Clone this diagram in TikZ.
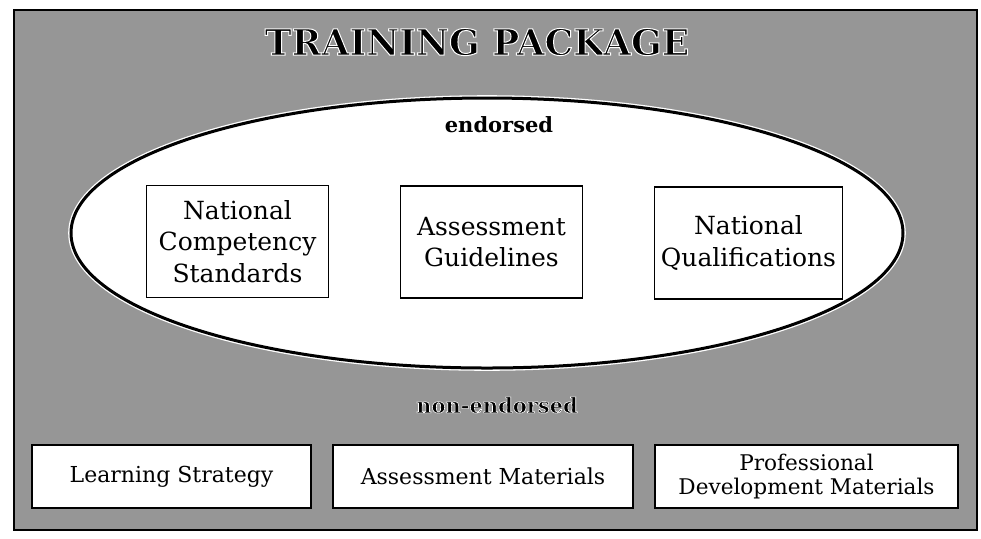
\documentclass[tikz,border=0pt]{standalone}
\usepackage{fontspec}
\setmainfont{DejaVu Serif}
\definecolor{tpgrey}{RGB}{150,150,150}
% black letters with a thin white rim (#1 = rim width in bp)
\newcommand{\rimmed}[2]{\special{pdf:literal direct 2 Tr 1 1 1 RG #1 w}#2\special{pdf:literal direct 0 Tr}}

\begin{document}
\begin{tikzpicture}[x=0.5pt,y=-0.5pt]
	\tikzset{
		card/.style={draw, line width=0.7pt, fill=white, inner sep=0pt, align=center,
			minimum width=91pt, minimum height=56pt, font=\fontsize{12.5}{15.7}\selectfont},
		strip/.style={draw, line width=0.7pt, fill=white, inner sep=0pt, align=center,
			minimum height=31.5pt, font=\fontsize{11}{12.5}\selectfont},
		tag/.style={inner sep=0pt, font=\fontsize{10.5}{12}\bfseries\selectfont}
	}
	\useasboundingbox (0,0) rectangle (981,538);
	% frame and shaded ground
	\filldraw [fill=tpgrey, line width=0.9pt] (14,10) rectangle (977,530);
	\node [inner sep=0pt, font=\fontsize{18}{20}\bfseries\selectfont] (title) at (477,42) {\rimmed{0.5}{TRAINING PACKAGE}};
	% endorsed part
	\draw [white, line width=2.8pt] (487,233) ellipse (416 and 135);
	\filldraw [fill=white, line width=1.5pt] (487,233) ellipse (416 and 135);
	\node [tag] (endorsed) at (499,125) {endorsed};
	\node [card] (standards) at (237.5,241.5) {National\\Competency\\Standards};
	\node [card] (guidelines) at (491.5,242) {Assessment\\Guidelines};
	\node [card, minimum width=94pt] (qualifications) at (748.5,243) {National\\Qualifications};
	% non-endorsed part
	\node [tag] (nonendorsed) at (497,405) {\rimmed{0.3}{non-endorsed}};
	\node [strip, minimum width=139.5pt] (strategy) at (171.5,476.5) {Learning Strategy};
	\node [strip, minimum width=150pt] (materials) at (483,476.5) {Assessment Materials};
	\node [strip, minimum width=151.5pt, font=\fontsize{10.8}{12}\selectfont] (development) at (806.5,476.5) {Professional\\Development Materials};
\end{tikzpicture}
\end{document}
